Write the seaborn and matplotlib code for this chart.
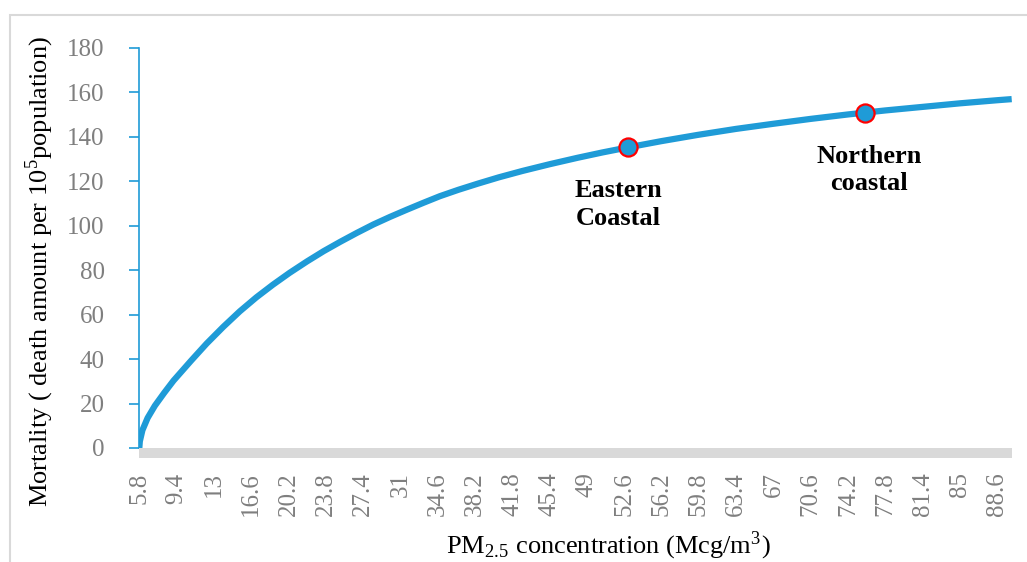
import matplotlib
matplotlib.use("Agg")
import matplotlib.pyplot as plt
import seaborn as sns
import pandas as pd
from matplotlib.patches import Rectangle

# PM2.5 concentration vs mortality
conc = [5.8, 5.85, 6.1, 6.6, 7.3, 8.2, 9.1, 10.8, 12.3, 13.9, 15.5, 17.1, 18.7, 20.3,
        22.0, 23.6, 25.2, 26.8, 28.4, 30.0, 31.6, 33.2, 34.8, 36.6, 38.5, 40.5, 42.8,
        45.4, 48.1, 50.5, 53.0, 56.2, 59.7, 63.4, 67.0, 70.6, 74.2, 77.8, 81.4, 85.0,
        88.6, 90.0]
mort = [0, 3, 8, 13.5, 19, 24.8, 30.3, 39.3, 47, 54.5, 61.5, 67.8, 73.5, 78.8,
        84, 88.6, 92.8, 96.8, 100.6, 104.0, 107.2, 110.3, 113.3, 116.2, 119.0, 121.8, 124.7,
        127.7, 130.6, 133.0, 135.3, 138.1, 140.9, 143.6, 145.9, 148.1, 150.1, 151.9, 153.5, 155.1,
        156.5, 157]

region_names = ["Eastern\nCoastal", "Northern\ncoastal"]
region_conc = [53.0, 75.8]
region_mort = [135.3, 150.9]

xtick_vals = [5.8, 9.4, 13, 16.6, 20.2, 23.8, 27.4, 31, 34.6, 38.2, 41.8, 45.4, 49,
              52.6, 56.2, 59.8, 63.4, 67, 70.6, 74.2, 77.8, 81.4, 85, 88.6]
xtick_labels = ["5.8", "9.4", "13", "16.6", "20.2", "23.8", "27.4", "31", "34.6", "38.2",
                "41.8", "45.4", "49", "52.6", "56.2", "59.8", "63.4", "67", "70.6", "74.2",
                "77.8", "81.4", "85", "88.6"]
ytick_vals = [0, 20, 40, 60, 80, 100, 120, 140, 160, 180]

blue = "#1f9bd7"
gray_txt = "#7f7f7f"

sns.set_theme(style = "white")
plt.rcParams["font.family"] = ["Liberation Serif", "DejaVu Serif"]
plt.rcParams["mathtext.fontset"] = "stix"

curve = pd.DataFrame({"conc": conc, "mort": mort})
points = pd.DataFrame({"conc": region_conc, "mort": region_mort})

fig = plt.figure(figsize = (10.27, 5.62), dpi = 100)
fig.patches.append(Rectangle((10 / 1027, -0.1), 1.2, 1 - 15 / 562 + 0.1, transform = fig.transFigure,
                             fill = False, edgecolor = "#d9d9d9", linewidth = 1.5))
ax = fig.add_axes([139.3 / 1027, 114 / 562, 872.4 / 1027, 400 / 562])

sns.lineplot(data = curve, x = "conc", y = "mort", ax = ax, color = blue, linewidth = 4.5,
             solid_capstyle = "butt", solid_joinstyle = "round", zorder = 3)
sns.scatterplot(data = points, x = "conc", y = "mort", ax = ax, color = blue, s = 170,
                edgecolor = "red", linewidth = 1.6, zorder = 4)

for name, x, y, dx, dy in zip(region_names, region_conc, region_mort, [-7, 3], [-23, -23]):
    ax.annotate(name, (x, y), xytext = (dx, dy), textcoords = "offset points", ha = "center", va = "top",
                fontsize = 19, fontweight = "bold", color = "black", linespacing = 1.25, multialignment = "center")

# spines first: moving a spine resets the tick settings
for side in ["top", "right"]:
    ax.spines[side].set_visible(False)
ax.spines["left"].set_color(blue)
ax.spines["left"].set_linewidth(1.2)
ax.spines["bottom"].set_position(("outward", 3.6))
ax.spines["bottom"].set_color("#d9d9d9")
ax.spines["bottom"].set_linewidth(7.2)
ax.spines["bottom"].set_capstyle("butt")

ax.set_xlim(5.8, 90)
ax.set_ylim(0, 180)
ax.set_xticks(xtick_vals)
ax.set_xticklabels(xtick_labels, rotation = 90, fontsize = 18, color = gray_txt)
ax.set_yticks(ytick_vals)
ax.set_yticklabels([str(v) for v in ytick_vals], fontsize = 18, color = gray_txt)
ax.tick_params(axis = "x", length = 0, pad = 14, bottom = True)
ax.tick_params(axis = "y", length = 7, width = 1.2, color = blue, pad = 18, left = True)

ax.set_xlabel("")
ax.set_ylabel("")
fig.text(40 / 1027, 0.516, "Mortality ( death amount per 10$^{\\mathregular{5}}$population)",
         rotation = 90, ha = "center", va = "center", fontsize = 19, color = "black")
fig.text(608 / 1027, 9 / 562, "PM$_{\\mathregular{2.5}}$ concentration (Mcg/m$^{\\mathregular{3}}$)",
         ha = "center", va = "baseline", fontsize = 19, color = "black")

fig.savefig("out.png", dpi = 100)
